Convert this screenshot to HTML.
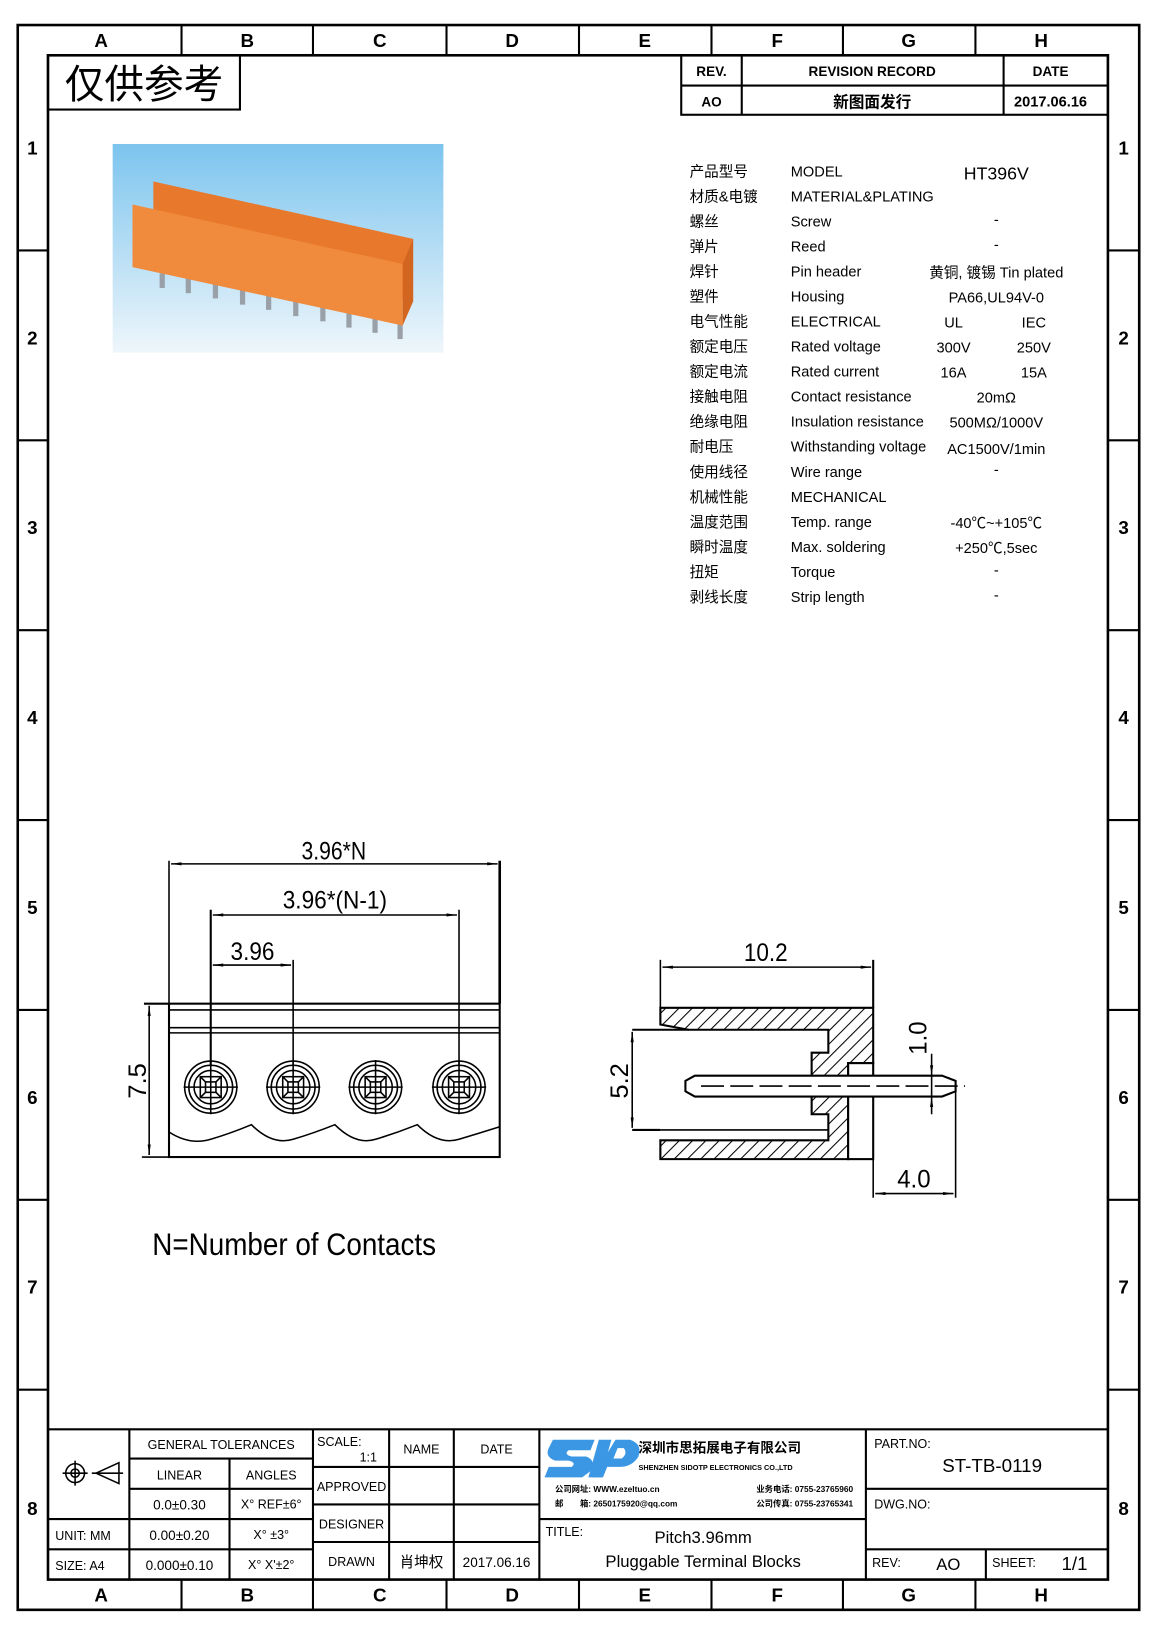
<!DOCTYPE html>
<html><head><meta charset="utf-8"><style>
html,body{margin:0;padding:0;background:#fff;}
svg{display:block;}
text{font-family:"Liberation Sans","Noto Sans CJK SC",sans-serif;fill:#000;}
.m{font-family:"Liberation Mono","Noto Sans CJK SC",monospace;}
.b{font-weight:bold;}
</style></head><body>
<svg width="1158" height="1638" viewBox="0 0 1110 1570" preserveAspectRatio="none" xmlns="http://www.w3.org/2000/svg">
<defs>
<pattern id="h" patternUnits="userSpaceOnUse" width="9" height="9" patternTransform="rotate(45)">
<rect width="9" height="9" fill="#fff"/><line x1="0" y1="0" x2="0" y2="9" stroke="#000" stroke-width="2"/>
</pattern>
<linearGradient id="sky" x1="0" y1="0" x2="0" y2="1"><stop offset="0" stop-color="#7cc4ee"/><stop offset="1" stop-color="#eef6fb"/></linearGradient>
<marker id="ar" markerWidth="10" markerHeight="6" refX="10" refY="3" orient="auto-start-reverse" markerUnits="userSpaceOnUse"><path d="M0,1.5 L10,3 L0,4.5Z" fill="#000"/></marker>
</defs>
<rect x="17" y="24" width="1075" height="1519" fill="none" stroke="#000" stroke-width="2.5"/>
<rect x="46" y="53" width="1016" height="1461" fill="none" stroke="#000" stroke-width="2.5"/>
<g stroke="#000" stroke-width="2">
<line x1="174" y1="24" x2="174" y2="53"/><line x1="300" y1="24" x2="300" y2="53"/><line x1="428" y1="24" x2="428" y2="53"/><line x1="555" y1="24" x2="555" y2="53"/><line x1="682" y1="24" x2="682" y2="53"/><line x1="808" y1="24" x2="808" y2="53"/><line x1="935" y1="24" x2="935" y2="53"/>
<line x1="174" y1="1514" x2="174" y2="1543"/><line x1="300" y1="1514" x2="300" y2="1543"/><line x1="428" y1="1514" x2="428" y2="1543"/><line x1="555" y1="1514" x2="555" y2="1543"/><line x1="682" y1="1514" x2="682" y2="1543"/><line x1="808" y1="1514" x2="808" y2="1543"/><line x1="935" y1="1514" x2="935" y2="1543"/>
<line x1="17" y1="240" x2="46" y2="240"/><line x1="17" y1="422" x2="46" y2="422"/><line x1="17" y1="604" x2="46" y2="604"/><line x1="17" y1="786" x2="46" y2="786"/><line x1="17" y1="968" x2="46" y2="968"/><line x1="17" y1="1150" x2="46" y2="1150"/><line x1="17" y1="1332" x2="46" y2="1332"/>
<line x1="1062" y1="240" x2="1092" y2="240"/><line x1="1062" y1="422" x2="1092" y2="422"/><line x1="1062" y1="604" x2="1092" y2="604"/><line x1="1062" y1="786" x2="1092" y2="786"/><line x1="1062" y1="968" x2="1092" y2="968"/><line x1="1062" y1="1150" x2="1092" y2="1150"/><line x1="1062" y1="1332" x2="1092" y2="1332"/>
</g>
<g font-size="18" class="b" text-anchor="middle">
<text x="97" y="45">A</text><text x="237" y="45">B</text><text x="364" y="45">C</text><text x="491" y="45">D</text><text x="618" y="45">E</text><text x="745" y="45">F</text><text x="871" y="45">G</text><text x="998" y="45">H</text>
<text x="97" y="1535">A</text><text x="237" y="1535">B</text><text x="364" y="1535">C</text><text x="491" y="1535">D</text><text x="618" y="1535">E</text><text x="745" y="1535">F</text><text x="871" y="1535">G</text><text x="998" y="1535">H</text>
<text x="31" y="148">1</text><text x="31" y="330">2</text><text x="31" y="512">3</text><text x="31" y="694">4</text><text x="31" y="876">5</text><text x="31" y="1058">6</text><text x="31" y="1240">7</text><text x="31" y="1452">8</text>
<text x="1077" y="148">1</text><text x="1077" y="330">2</text><text x="1077" y="512">3</text><text x="1077" y="694">4</text><text x="1077" y="876">5</text><text x="1077" y="1058">6</text><text x="1077" y="1240">7</text><text x="1077" y="1452">8</text>
</g>
<rect x="46" y="53" width="184" height="52" fill="none" stroke="#000" stroke-width="2"/>
<text x="138" y="94" font-size="38" text-anchor="middle">仅供参考</text>
<g stroke="#000" stroke-width="2" fill="none">
<rect x="653" y="53" width="409" height="57"/><line x1="653" y1="82" x2="1062" y2="82"/><line x1="711" y1="53" x2="711" y2="110"/><line x1="962" y1="53" x2="962" y2="110"/>
</g>
<g font-size="13" class="b" text-anchor="middle">
<text x="682" y="73">REV.</text><text x="836" y="73">REVISION RECORD</text><text x="1007" y="73">DATE</text>
<text x="682" y="102">AO</text><text x="836" y="103" font-size="15">新图面发行</text><text x="1007" y="102" font-size="14">2017.06.16</text>
</g>
<rect x="108" y="138" width="317" height="200" fill="url(#sky)"/>
<g fill="#9aa0a8">
<rect x="153" y="262" width="5" height="14"/><rect x="178" y="267" width="5" height="14"/><rect x="204" y="272" width="5" height="14"/><rect x="230" y="278" width="5" height="14"/><rect x="255" y="283" width="5" height="14"/><rect x="281" y="289" width="5" height="14"/><rect x="307" y="294" width="5" height="14"/><rect x="332" y="300" width="5" height="14"/><rect x="357" y="305" width="5" height="14"/><rect x="381" y="311" width="5" height="14"/>
</g>
<polygon points="147,174 396,229 396,289 147,234" fill="#e8782c"/>
<polygon points="127,196 386,253 386,312 127,256" fill="#f08a3c"/>
<polygon points="386,253 396,229 396,289 386,312" fill="#d26520"/>
<g font-size="14" class="m">
<text x="661" y="169">产品型号</text><text x="758" y="169">MODEL</text><text x="955" y="172" text-anchor="middle" font-size="17">HT396V</text>
<text x="661" y="193">材质&amp;电镀</text><text x="758" y="193">MATERIAL&amp;PLATING</text>
<text x="661" y="217">螺丝</text><text x="758" y="217">Screw</text><text x="955" y="215" text-anchor="middle">-</text>
<text x="661" y="241">弹片</text><text x="758" y="241">Reed</text><text x="955" y="239" text-anchor="middle">-</text>
<text x="661" y="265">焊针</text><text x="758" y="265">Pin header</text><text x="955" y="266" text-anchor="middle">黄铜, 镀锡 Tin plated</text>
<text x="661" y="289">塑件</text><text x="758" y="289">Housing</text><text x="955" y="290" text-anchor="middle">PA66,UL94V-0</text>
<text x="661" y="313">电气性能</text><text x="758" y="313">ELECTRICAL</text><text x="914" y="314" text-anchor="middle">UL</text><text x="991" y="314" text-anchor="middle">IEC</text>
<text x="661" y="337">额定电压</text><text x="758" y="337">Rated voltage</text><text x="914" y="338" text-anchor="middle">300V</text><text x="991" y="338" text-anchor="middle">250V</text>
<text x="661" y="361">额定电流</text><text x="758" y="361">Rated current</text><text x="914" y="362" text-anchor="middle">16A</text><text x="991" y="362" text-anchor="middle">15A</text>
<text x="661" y="385">接触电阻</text><text x="758" y="385">Contact resistance</text><text x="955" y="386" text-anchor="middle">20mΩ</text>
<text x="661" y="409">绝缘电阻</text><text x="758" y="409">Insulation resistance</text><text x="955" y="410" text-anchor="middle">500MΩ/1000V</text>
<text x="661" y="433">耐电压</text><text x="758" y="433">Withstanding voltage</text><text x="955" y="435" text-anchor="middle">AC1500V/1min</text>
<text x="661" y="457">使用线径</text><text x="758" y="457">Wire range</text><text x="955" y="455" text-anchor="middle">-</text>
<text x="661" y="481">机械性能</text><text x="758" y="481">MECHANICAL</text>
<text x="661" y="505">温度范围</text><text x="758" y="505">Temp. range</text><text x="955" y="506" text-anchor="middle">-40℃~+105℃</text>
<text x="661" y="529">瞬时温度</text><text x="758" y="529">Max. soldering</text><text x="955" y="530" text-anchor="middle">+250℃,5sec</text>
<text x="661" y="553">扭矩</text><text x="758" y="553">Torque</text><text x="955" y="551" text-anchor="middle">-</text>
<text x="661" y="577">剥线长度</text><text x="758" y="577">Strip length</text><text x="955" y="575" text-anchor="middle">-</text>
</g>
<g stroke="#000" fill="none" stroke-width="1.5">
<rect x="162" y="962" width="317" height="147" stroke-width="2"/>
<line x1="162" y1="968" x2="479" y2="968"/><line x1="162" y1="985" x2="479" y2="985"/><line x1="162" y1="990" x2="479" y2="990"/>
<path d="M162,1085 Q182,1098 202,1092 Q222,1086 241,1078 Q261,1098 281,1092 Q301,1086 321,1078 Q341,1098 360,1092 Q380,1086 400,1078 Q420,1098 440,1092 Q460,1086 479,1080"/>
<line x1="162" y1="825" x2="162" y2="962"/><line x1="479" y1="825" x2="479" y2="962" stroke-width="2.5"/>
<line x1="202" y1="872" x2="202" y2="1022" stroke-width="2"/><line x1="440" y1="872" x2="440" y2="1022"/><line x1="281" y1="920" x2="281" y2="1022"/>
<line x1="164" y1="828" x2="477" y2="828" marker-start="url(#ar)" marker-end="url(#ar)"/>
<line x1="204" y1="877" x2="438" y2="877" marker-start="url(#ar)" marker-end="url(#ar)"/>
<line x1="204" y1="925" x2="279" y2="925" marker-start="url(#ar)" marker-end="url(#ar)"/>
<line x1="138" y1="962" x2="162" y2="962" stroke-width="2"/>
<line x1="143" y1="964" x2="143" y2="1107" marker-start="url(#ar)" marker-end="url(#ar)"/>
<line x1="136" y1="1109" x2="162" y2="1109"/>
</g>
<g stroke="#000" fill="none" stroke-width="1.5">
<g id="sc"><circle cx="202" cy="1042" r="25"/><circle cx="202" cy="1042" r="21"/><circle cx="202" cy="1042" r="16"/><rect x="192" y="1032" width="20" height="20"/><rect x="197" y="1037" width="10" height="10"/><line x1="176" y1="1042" x2="228" y2="1042"/><line x1="202" y1="1016" x2="202" y2="1068"/><line x1="192" y1="1032" x2="197" y2="1037"/><line x1="212" y1="1032" x2="207" y2="1037"/><line x1="192" y1="1052" x2="197" y2="1047"/><line x1="212" y1="1052" x2="207" y2="1047"/></g>
<use href="#sc" x="79"/><use href="#sc" x="158"/><use href="#sc" x="238"/>
</g>
<g font-size="24" text-anchor="middle">
<text x="320" y="824" textLength="62" lengthAdjust="spacingAndGlyphs">3.96*N</text>
<text x="321" y="871" textLength="100" lengthAdjust="spacingAndGlyphs">3.96*(N-1)</text>
<text x="242" y="920" textLength="42" lengthAdjust="spacingAndGlyphs">3.96</text>
<text transform="translate(140,1036) rotate(-90)" textLength="34" lengthAdjust="spacingAndGlyphs">7.5</text>
</g>
<text x="146" y="1203" font-size="30" textLength="272" lengthAdjust="spacingAndGlyphs">N=Number of Contacts</text>
<path d="M633,966 L837,966 L837,1019 L813,1019 L813,1111 L633,1111 L633,1093 L794,1093 L794,1068 L778,1068 L778,1009 L794,1009 L794,987 L660,987 L633,982 Z" fill="url(#h)" stroke="#000" stroke-width="2"/>
<g stroke="#000" fill="none" stroke-width="2">
<rect x="813" y="1019" width="24" height="92" fill="#fff"/>
<line x1="606" y1="987" x2="660" y2="987"/><line x1="633" y1="1083" x2="794" y2="1083" stroke-width="1.5"/><line x1="606" y1="1083" x2="633" y2="1083"/>
<path d="M666,1031 L903,1031 L916,1036 L916,1046 L903,1051 L666,1051 L657,1046 L657,1036 Z" fill="#fff"/>
</g>
<g stroke="#000" fill="none" stroke-width="1.5">
<line x1="672" y1="1041" x2="925" y2="1041" stroke-dasharray="22,6"/>
<line x1="633" y1="920" x2="633" y2="966"/><line x1="837" y1="920" x2="837" y2="966" stroke-width="2"/>
<line x1="635" y1="927" x2="835" y2="927" marker-start="url(#ar)" marker-end="url(#ar)"/>
<line x1="606" y1="989" x2="606" y2="1081" marker-start="url(#ar)" marker-end="url(#ar)"/>
<line x1="837" y1="1111" x2="837" y2="1148"/><line x1="916" y1="1046" x2="916" y2="1148"/>
<line x1="839" y1="1144" x2="914" y2="1144" marker-start="url(#ar)" marker-end="url(#ar)"/>
<line x1="893" y1="1010" x2="893" y2="1031" marker-end="url(#ar)"/><line x1="893" y1="1068" x2="893" y2="1051" marker-end="url(#ar)"/>
<line x1="893" y1="1031" x2="893" y2="1051"/>
</g>
<g font-size="24" text-anchor="middle">
<text x="734" y="921" textLength="42" lengthAdjust="spacingAndGlyphs">10.2</text>
<text x="876" y="1138" textLength="32" lengthAdjust="spacingAndGlyphs">4.0</text>
<text transform="translate(602,1036) rotate(-90)" textLength="34" lengthAdjust="spacingAndGlyphs">5.2</text>
<text transform="translate(888,995) rotate(-90)" textLength="32" lengthAdjust="spacingAndGlyphs">1.0</text>
</g>
<g stroke="#000" fill="none" stroke-width="2">
<line x1="46" y1="1370" x2="1062" y2="1370"/>
<line x1="124" y1="1370" x2="124" y2="1514"/><line x1="220" y1="1398" x2="220" y2="1514"/><line x1="300" y1="1370" x2="300" y2="1514"/>
<line x1="373" y1="1370" x2="373" y2="1514"/><line x1="435" y1="1370" x2="435" y2="1514"/><line x1="517" y1="1370" x2="517" y2="1514"/><line x1="830" y1="1370" x2="830" y2="1514"/>
<line x1="124" y1="1398" x2="300" y2="1398"/><line x1="124" y1="1427" x2="300" y2="1427"/><line x1="46" y1="1456" x2="300" y2="1456"/><line x1="46" y1="1485" x2="300" y2="1485"/>
<line x1="300" y1="1406" x2="517" y2="1406"/><line x1="300" y1="1442" x2="517" y2="1442"/><line x1="300" y1="1478" x2="517" y2="1478"/>
<line x1="517" y1="1456" x2="830" y2="1456"/>
<line x1="830" y1="1427" x2="1062" y2="1427"/><line x1="830" y1="1485" x2="1062" y2="1485"/><line x1="945" y1="1485" x2="945" y2="1514"/>
</g>
<g stroke="#000" fill="none" stroke-width="1.5">
<circle cx="72" cy="1412" r="9"/><circle cx="72" cy="1412" r="4"/><line x1="60" y1="1412" x2="84" y2="1412"/><line x1="72" y1="1400" x2="72" y2="1424"/>
<path d="M92,1412 L114,1402 L114,1422 Z"/><line x1="88" y1="1412" x2="118" y2="1412"/>
</g>
<g font-size="12" class="m">
<text x="212" y="1389" text-anchor="middle">GENERAL TOLERANCES</text>
<text x="172" y="1418" text-anchor="middle">LINEAR</text><text x="260" y="1418" text-anchor="middle">ANGLES</text>
<text x="172" y="1447" text-anchor="middle" font-size="13">0.0±0.30</text><text x="260" y="1446" text-anchor="middle">X° REF±6°</text>
<text x="53" y="1476">UNIT: MM</text><text x="172" y="1476" text-anchor="middle" font-size="13">0.00±0.20</text><text x="260" y="1475" text-anchor="middle">X° ±3°</text>
<text x="53" y="1505">SIZE: A4</text><text x="172" y="1505" text-anchor="middle" font-size="13">0.000±0.10</text><text x="260" y="1504" text-anchor="middle">X° X'±2°</text>
<text x="304" y="1386">SCALE:</text><text x="353" y="1401" text-anchor="middle">1:1</text>
<text x="404" y="1393" text-anchor="middle">NAME</text><text x="476" y="1393" text-anchor="middle">DATE</text>
<text x="337" y="1429" text-anchor="middle">APPROVED</text><text x="337" y="1465" text-anchor="middle">DESIGNER</text><text x="337" y="1501" text-anchor="middle">DRAWN</text>
<text x="404" y="1502" text-anchor="middle" font-size="14">肖坤权</text><text x="476" y="1502" text-anchor="middle" font-size="13">2017.06.16</text>
<text x="523" y="1472">TITLE:</text>
<text x="674" y="1479" text-anchor="middle" font-size="16">Pitch3.96mm</text>
<text x="674" y="1502" text-anchor="middle" font-size="16">Pluggable Terminal Blocks</text>
<text x="838" y="1388">PART.NO:</text><text x="951" y="1411" text-anchor="middle" font-size="18">ST-TB-0119</text>
<text x="838" y="1446">DWG.NO:</text>
<text x="836" y="1502">REV:</text><text x="909" y="1505" text-anchor="middle" font-size="16">AO</text>
<text x="951" y="1502">SHEET:</text><text x="1030" y="1505" text-anchor="middle" font-size="18">1/1</text>
</g>
<g fill="#3b97e4">
<path d="M530,1380 L570,1380 L566,1390 L545,1390 Q540,1394 548,1396 L562,1396 Q572,1400 566,1410 L558,1416 L522,1416 L526,1406 L548,1406 Q553,1402 545,1400 L532,1400 Q522,1396 526,1388 Z"/>
<path d="M574,1380 L586,1380 L576,1416 L564,1416 Z"/>
<path d="M590,1380 L604,1380 Q616,1384 612,1396 Q606,1406 594,1406 L582,1406 L578,1416 L568,1416 Z M592,1388 L588,1398 L596,1398 Q602,1393 598,1388 Z"/>
</g>
<text x="612" y="1392" font-size="13" class="b">深圳市思拓展电子有限公司</text>
<text x="612" y="1409" font-size="7" class="b">SHENZHEN SIDOTP ELECTRONICS CO.,LTD</text>
<g font-size="8" class="b">
<text x="532" y="1430">公司网址: WWW.ezeltuo.cn</text><text x="725" y="1430">业务电话: 0755-23765960</text>
<text x="532" y="1444">邮　　箱: 2650175920@qq.com</text><text x="725" y="1444">公司传真: 0755-23765341</text>
</g>
</svg>
</body></html>
